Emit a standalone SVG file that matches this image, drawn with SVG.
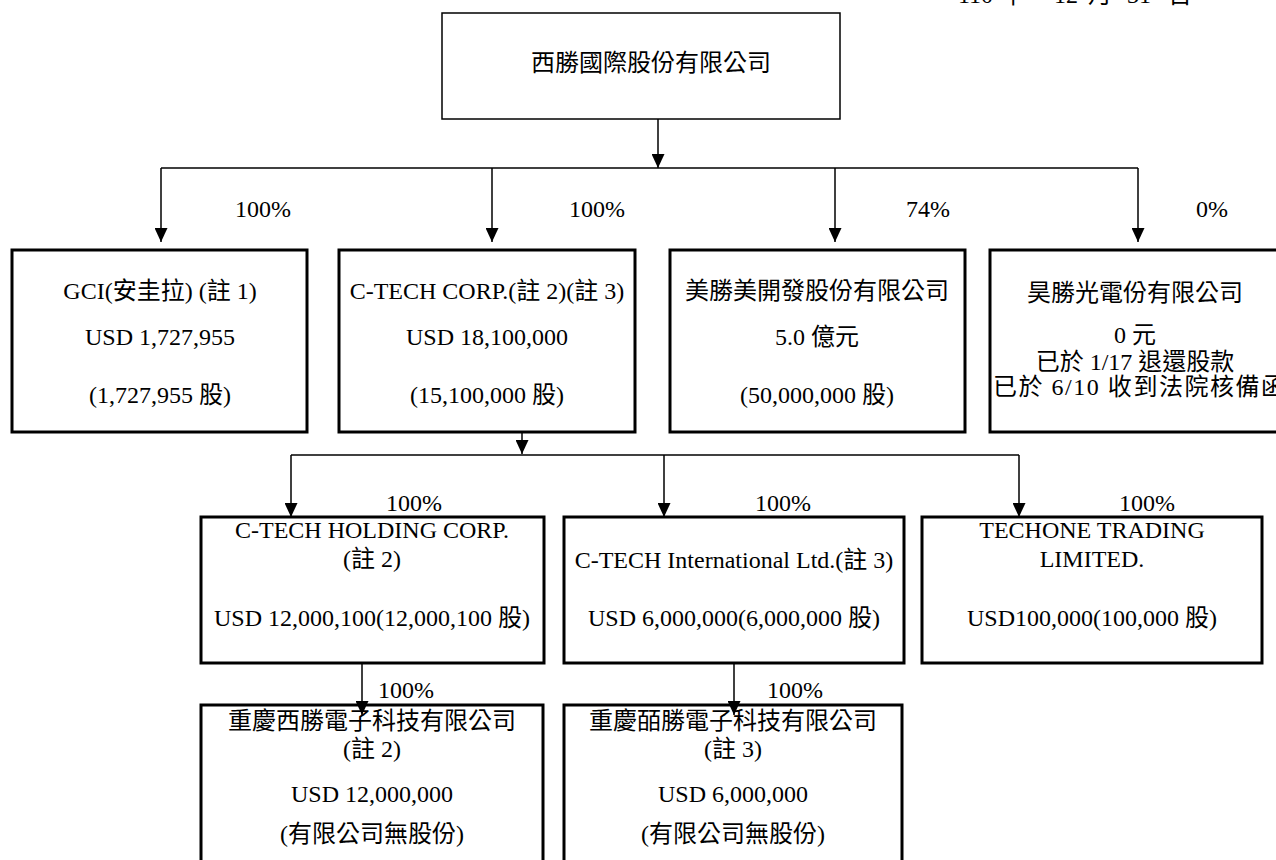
<svg xmlns="http://www.w3.org/2000/svg" width="1276" height="860" viewBox="0 0 1276 860">
<defs>
<style>
.t{font-family:"Liberation Serif","Noto Sans CJK TC",serif;font-size:24px;fill:#000;text-anchor:middle}
.p{font-family:"Liberation Serif","Noto Sans CJK TC",serif;font-size:24px;fill:#000}
.box{fill:#fff;stroke:#000;stroke-width:3}
.thin{fill:#fff;stroke:#000;stroke-width:1.5}
.c{fill:none;stroke:#000;stroke-width:1.5}
</style>
<marker id="ah" markerUnits="userSpaceOnUse" markerWidth="14" markerHeight="13" viewBox="0 0 14 13" refX="14" refY="6.5" orient="auto">
<path d="M0,0 L14,6.5 L0,13 z" fill="#000"/>
</marker>
</defs>
<rect width="1276" height="860" fill="#fff"/>
<g id="date">
<text class="p" y="3"><tspan x="958">110</tspan><tspan x="1000">年</tspan><tspan x="1054">12</tspan><tspan x="1088">月</tspan><tspan x="1127">31</tspan><tspan x="1168">日</tspan></text>
</g>
<g id="n-parent">
<rect class="thin" x="442" y="13" width="398" height="106"/>
<text class="t" x="651" y="71">西勝國際股份有限公司</text>
</g>
<g id="n-gci">
<rect class="box" x="12" y="250" width="295" height="182"/>
<text class="t" x="160" y="299">GCI(安圭拉) (註 1)</text>
<text class="t" x="160" y="345">USD 1,727,955</text>
<text class="t" x="160" y="403">(1,727,955 股)</text>
</g>
<g id="n-ctech">
<rect class="box" x="339" y="250" width="296" height="182"/>
<text class="t" x="487" y="299">C-TECH CORP.(註 2)(註 3)</text>
<text class="t" x="487" y="345">USD 18,100,000</text>
<text class="t" x="487" y="403">(15,100,000 股)</text>
</g>
<g id="n-msm">
<rect class="box" x="670" y="250" width="295" height="182"/>
<text class="t" x="817" y="299">美勝美開發股份有限公司</text>
<text class="t" x="817" y="345">5.0 億元</text>
<text class="t" x="817" y="403">(50,000,000 股)</text>
</g>
<g id="n-hs">
<rect class="box" x="990" y="250" width="300" height="182"/>
<text class="t" x="1135" y="301">昊勝光電份有限公司</text>
<text class="t" x="1135" y="343">0 元</text>
<text class="t" x="1135" y="370">已於 1/17 退還股款</text>
<text class="p" x="993" y="395" textLength="292" lengthAdjust="spacing">已於 6/10 收到法院核備函</text>
</g>
<g id="n-holding">
<rect class="box" x="201" y="517" width="343" height="146"/>
<text class="t" x="372" y="538">C-TECH HOLDING CORP.</text>
<text class="t" x="372" y="567">(註 2)</text>
<text class="t" x="372" y="626">USD 12,000,100(12,000,100 股)</text>
</g>
<g id="n-intl">
<rect class="box" x="564" y="517" width="340" height="146"/>
<text class="t" x="734" y="568">C-TECH International Ltd.(註 3)</text>
<text class="t" x="734" y="626">USD 6,000,000(6,000,000 股)</text>
</g>
<g id="n-techone">
<rect class="box" x="922" y="517" width="340" height="146"/>
<text class="t" x="1092" y="538">TECHONE TRADING</text>
<text class="t" x="1092" y="567">LIMITED.</text>
<text class="t" x="1092" y="626">USD100,000(100,000 股)</text>
</g>
<g id="n-cq-xs">
<rect class="box" x="201" y="705" width="342" height="170"/>
<text class="t" x="372" y="729">重慶西勝電子科技有限公司</text>
<text class="t" x="372" y="757">(註 2)</text>
<text class="t" x="372" y="802">USD 12,000,000</text>
<text class="t" x="372" y="842">(有限公司無股份)</text>
</g>
<g id="n-cq-bs">
<rect class="box" x="564" y="705" width="338" height="170"/>
<text class="t" x="733" y="729">重慶皕勝電子科技有限公司</text>
<text class="t" x="733" y="757">(註 3)</text>
<text class="t" x="733" y="802">USD 6,000,000</text>
<text class="t" x="733" y="842">(有限公司無股份)</text>
</g>
<g id="connectors">
<line class="c" x1="658" y1="119" x2="658" y2="168" marker-end="url(#ah)"/>
<line class="c" x1="161" y1="168" x2="1138" y2="168"/>
<line class="c" x1="161" y1="168" x2="161" y2="242" marker-end="url(#ah)"/>
<line class="c" x1="492" y1="168" x2="492" y2="242" marker-end="url(#ah)"/>
<line class="c" x1="835" y1="168" x2="835" y2="242" marker-end="url(#ah)"/>
<line class="c" x1="1138" y1="168" x2="1138" y2="242" marker-end="url(#ah)"/>
<line class="c" x1="522" y1="432" x2="522" y2="454" marker-end="url(#ah)"/>
<line class="c" x1="291" y1="455" x2="1019" y2="455"/>
<line class="c" x1="291" y1="455" x2="291" y2="517" marker-end="url(#ah)"/>
<line class="c" x1="664" y1="455" x2="664" y2="517" marker-end="url(#ah)"/>
<line class="c" x1="1019" y1="455" x2="1019" y2="517" marker-end="url(#ah)"/>
<line class="c" x1="362" y1="663" x2="362" y2="715" marker-end="url(#ah)"/>
<line class="c" x1="734" y1="663" x2="734" y2="715" marker-end="url(#ah)"/>
</g>
<g id="labels">
<text class="p" x="235" y="217">100%</text>
<text class="p" x="569" y="217">100%</text>
<text class="p" x="906" y="217">74%</text>
<text class="p" x="1196" y="217">0%</text>
<text class="p" x="386" y="511">100%</text>
<text class="p" x="755" y="511">100%</text>
<text class="p" x="1119" y="511">100%</text>
<text class="p" x="378" y="698">100%</text>
<text class="p" x="767" y="698">100%</text>
</g>
</svg>
